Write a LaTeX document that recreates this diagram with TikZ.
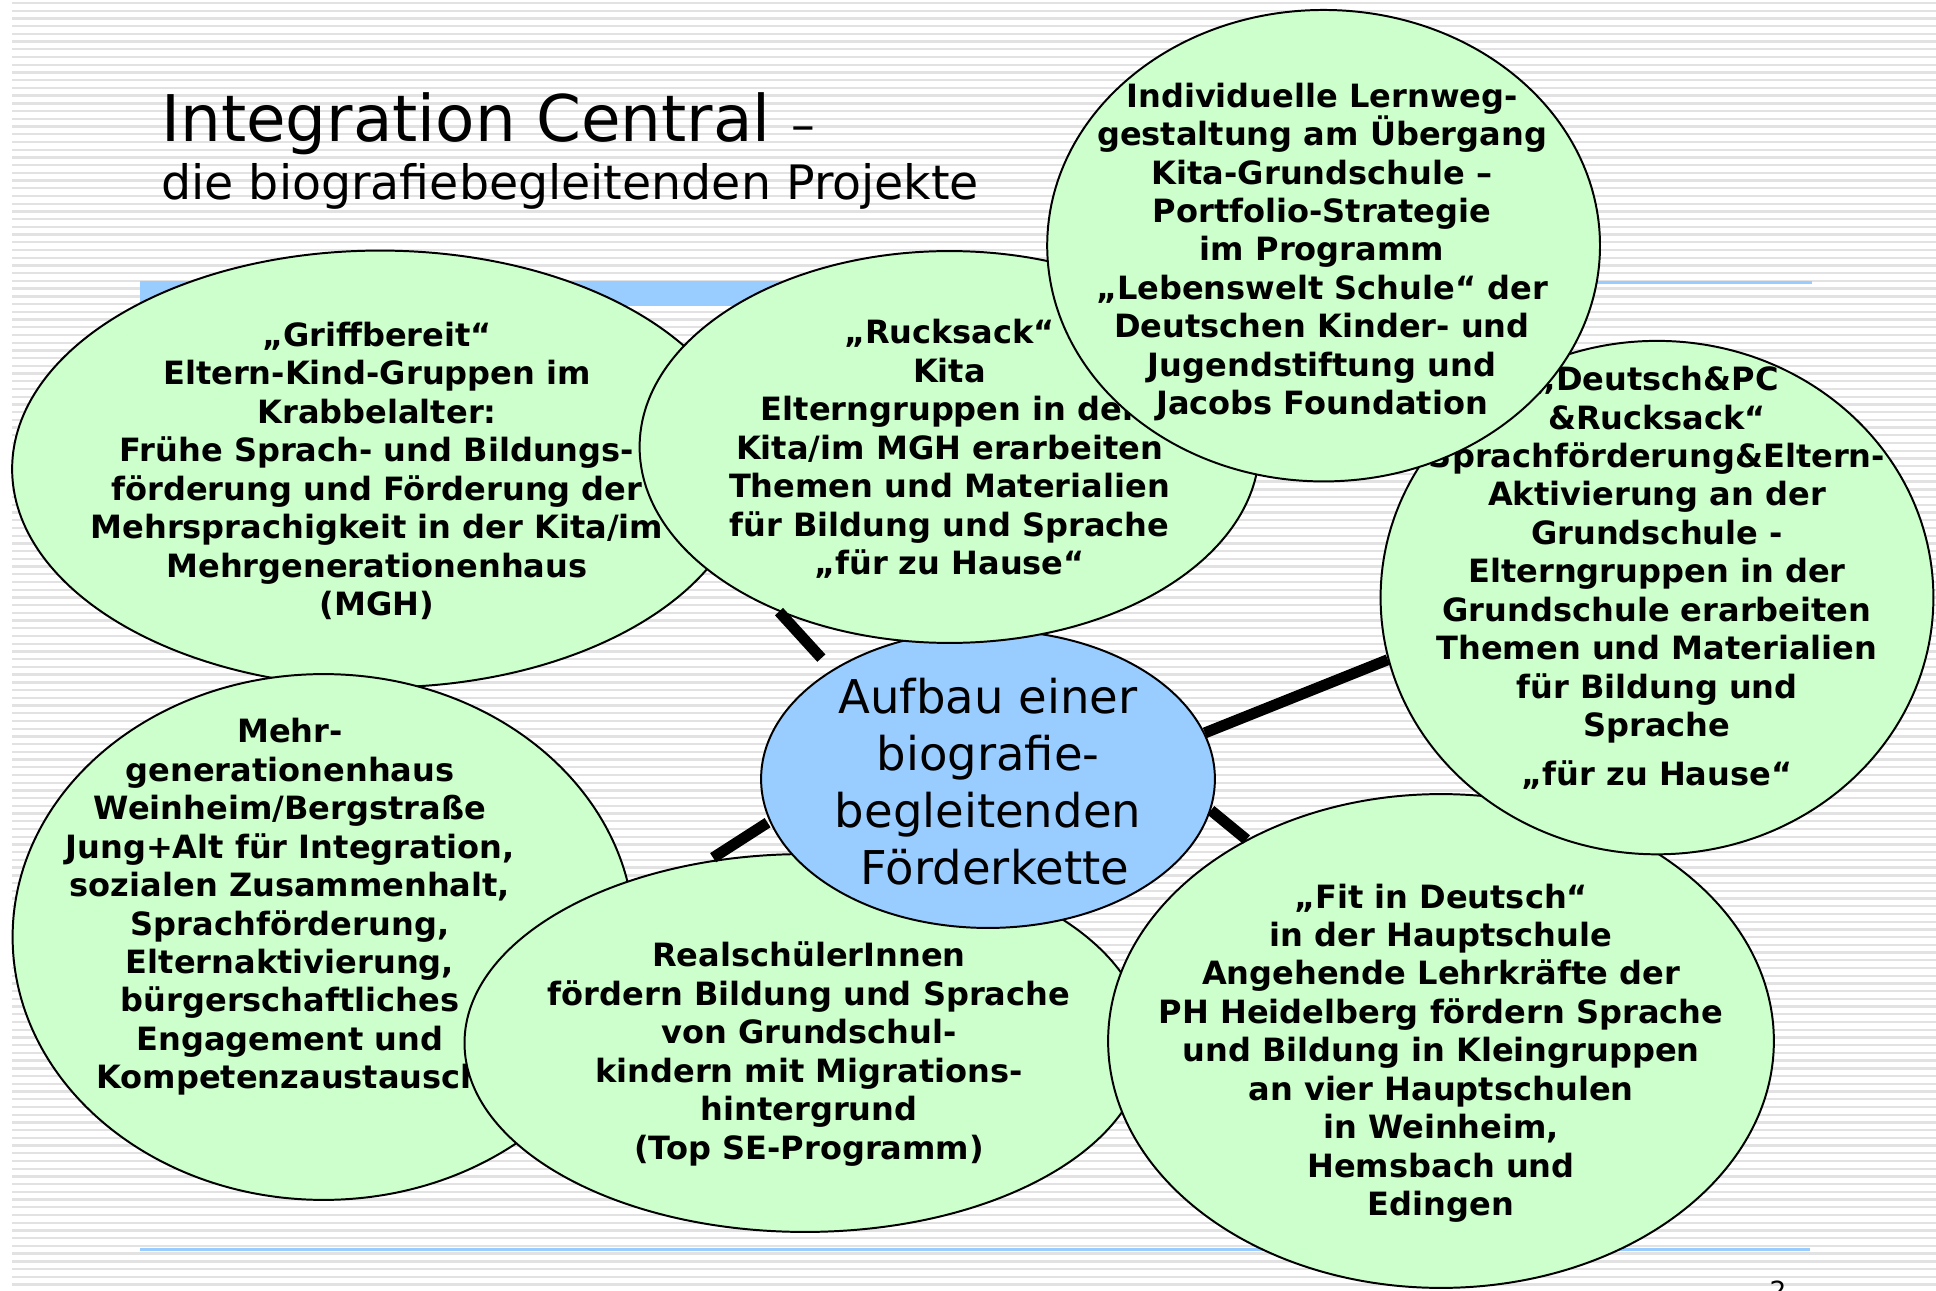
\documentclass[tikz,border=0pt]{standalone}
\usepackage{fontspec}
\setmainfont{DejaVu Sans}
\usetikzlibrary{shapes.geometric,calc,positioning}
\definecolor{mint}{RGB}{204,255,204}
\definecolor{sky}{RGB}{153,204,255}
\definecolor{stripegray}{RGB}{226,226,226}
\tikzstyle{blob} = [ellipse, draw=black, line width=0.9pt, fill=mint, inner sep=0pt]
\tikzstyle{hubblob} = [blob, fill=sky]
\tikzstyle{txt} = [align=center, inner sep=0pt, font=\fontsize{14.6}{17.5}\selectfont\bfseries]
\tikzstyle{link} = [line width=5pt]
\tikzstyle{stripeline} = [stripegray, line width=1.05pt]

\begin{document}
\begin{tikzpicture}[x=0.016cm, y=-0.016cm]
 \useasboundingbox (0,0) rectangle (1936,1291);
 \fill[white] (0,0) rectangle (1936,1291);
 \foreach \y in {3,10.72,...,1291}
   \draw[stripeline] (12,\y) -- (1936,\y);
 \fill[sky] (140,281) rectangle (1000,306);
 \draw[sky, line width=0.048cm] (1000,282.5) -- (1812,282.5);
 \draw[sky, line width=0.045cm] (140,1249.3) -- (1810,1249.3);

 \node (title) [anchor=base west, inner sep=0pt, font=\fontsize{29.3}{35}\selectfont] at (161,142)
   {Integration Central {\fontsize{21.6}{26}\selectfont –}};
 \node (subtitle) [anchor=base west, inner sep=0pt, font=\fontsize{21.6}{26}\selectfont] at (161,200)
   {die biografiebegleitenden Projekte};

 \node (griff) [blob, minimum width=11.776cm, minimum height=6.992cm] at (380,469) {};
 \node (griff-txt) [txt] at (377,471) {„Griffbereit“\\Eltern-Kind-Gruppen im\\Krabbelalter:\\Frühe Sprach- und Bildungs-\\förderung und Förderung der\\Mehrsprachigkeit in der Kita/im\\Mehrgenerationenhaus\\(MGH)};

 \node (mehr) [blob, minimum width=9.952cm, minimum height=8.416cm] at (323.5,937) {};
 \node (mehr-txt) [txt] at (290,907) {Mehr-\\generationenhaus\\Weinheim/Bergstraße\\Jung+Alt für Integration,\\sozialen Zusammenhalt,\\Sprachförderung,\\Elternaktivierung,\\bürgerschaftliches\\Engagement und\\Kompetenzaustausch};

 \node (real) [blob, minimum width=10.9cm, minimum height=6.048cm] at (805,1043) {};
 \node (real-txt) [txt] at (809,1054) {RealschülerInnen\\fördern Bildung und Sprache\\von Grundschul-\\kindern mit Migrations-\\hintergrund\\(Top SE-Programm)};

 \node (hub) [hubblob, minimum width=7.264cm, minimum height=4.768cm] at (988,779) {};
 \node (hub-txt) [align=center, inner sep=0pt, font=\fontsize{21.2}{26}\selectfont] at (988,782)
   {Aufbau einer\\biografie-\\begleitenden\\\hspace*{.3em}Förderkette};

 \node (ruck) [blob, minimum width=9.92cm, minimum height=6.272cm] at (949.5,447) {};
 \node (ruck-txt) [txt] at (949.5,449) {„Rucksack“\\Kita\\Elterngruppen in der\\Kita/im MGH erarbeiten\\Themen und Materialien\\für Bildung und Sprache\\„für zu Hause“};

 \node (fit) [blob, minimum width=10.656cm, minimum height=7.904cm] at (1441,1041) {};
 \node (fit-txt) [txt] at (1441,1053) {„Fit in Deutsch“\\in der Hauptschule\\Angehende Lehrkräfte der\\PH Heidelberg fördern Sprache\\und Bildung in Kleingruppen\\an vier Hauptschulen\\in Weinheim,\\Hemsbach und\\Edingen};

 \node (dpc) [blob, minimum width=8.848cm, minimum height=8.218cm] at (1657,597.6) {};
 \node (dpc-txt) [txt] at (1657,578) {„Deutsch\&PC\\\&Rucksack“\\Sprachförderung\&Eltern-\\Aktivierung an der\\Grundschule -\\Elterngruppen in der\\Grundschule erarbeiten\\Themen und Materialien\\für Bildung und\\Sprache\\[5pt]„für zu Hause“};

 \node (indiv) [blob, minimum width=8.848cm, minimum height=7.546cm] at (1323.6,245.7) {};
 \node (indiv-txt) [txt] at (1322,252) {Individuelle Lernweg-\\gestaltung am Übergang\\Kita-Grundschule –\\Portfolio-Strategie\\im Programm\\„Lebenswelt Schule“ der\\Deutschen Kinder- und\\Jugendstiftung und\\Jacobs Foundation};

 % connectors
 \draw[link] (ruck.224) -- ($(ruck.224)!0.8!(hub.145)$);
 \draw[link] (hub.12) -- (dpc.193);
 \draw[link] (hub.-8) -- (fit.134);
 \draw[link] ($(real.118)!0.08!(hub.191)$) -- ($(real.118)!0.97!(hub.191)$);

 \node (pagenum) [anchor=north, inner sep=0pt, font=\fontsize{12}{14}\selectfont] at (1778,1280) {2};
\end{tikzpicture}
\end{document}
